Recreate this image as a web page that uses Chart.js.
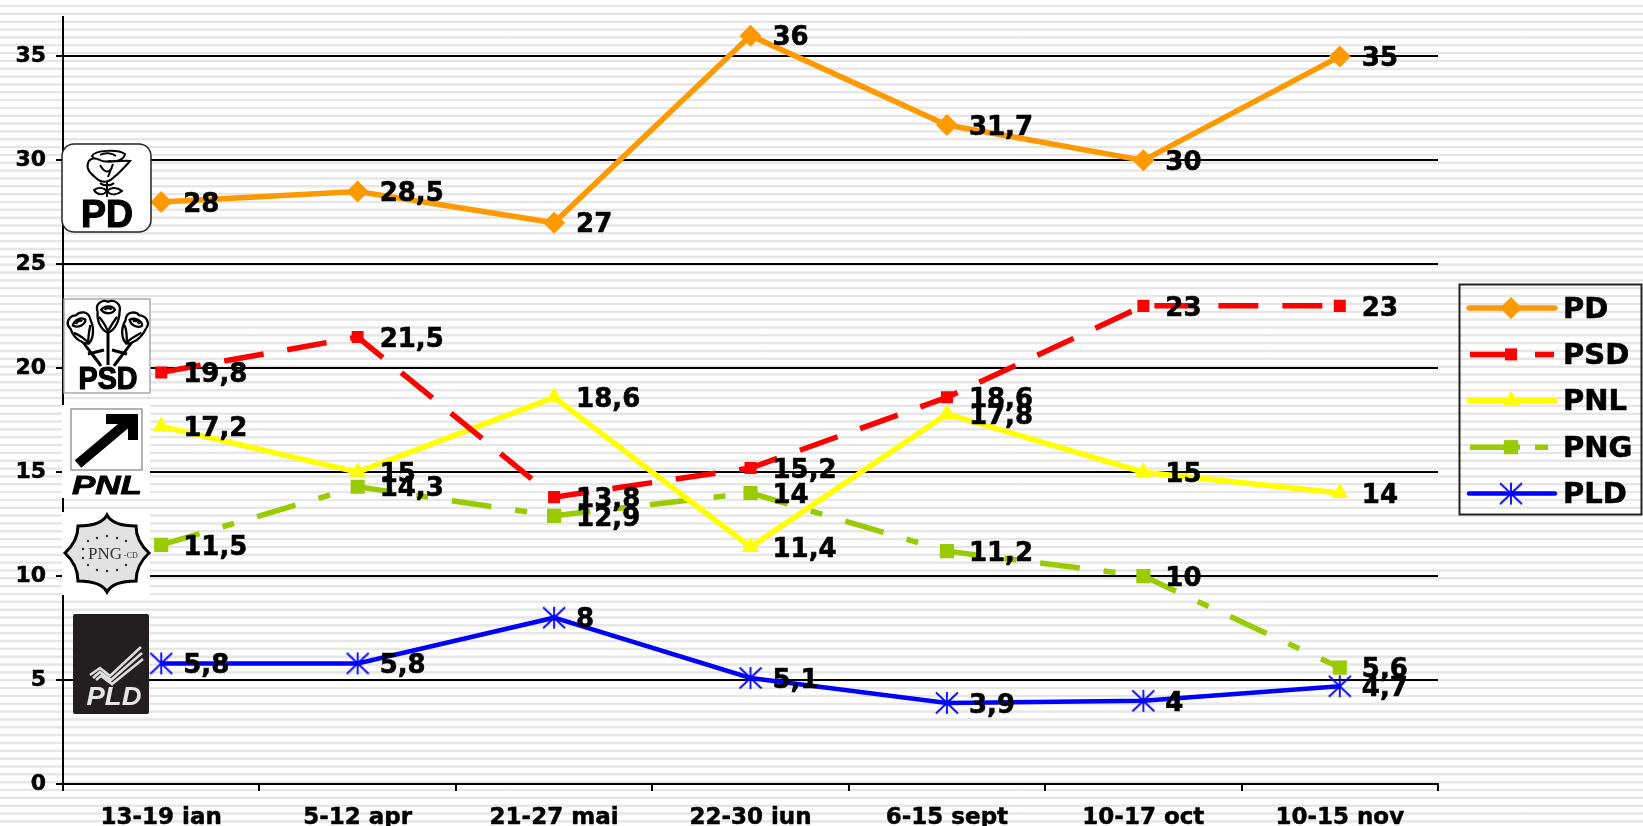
<!DOCTYPE html>
<html><head><meta charset="utf-8">
<script src="https://cdn.jsdelivr.net/npm/chart.js@4"></script>
<style>
html,body{margin:0;padding:0;width:1643px;height:826px;overflow:hidden;background:#fff}
#bg{position:absolute;left:0;top:0;width:1643px;height:826px;
background:repeating-linear-gradient(180deg,#fff 0,#fff 4.4px,#e6e6e6 5.2px,#e6e6e6 6.8px,#fff 7.6px,#fff 7.84px)}
#wrap{position:absolute;left:0;top:0;width:1643px;height:826px}
#logos{position:absolute;left:0;top:0;pointer-events:none}
</style></head><body>
<div id="bg"></div>
<div id="wrap"><canvas id="c" width="1643" height="826"></canvas></div>
<svg id="logos" width="1643" height="826" viewBox="0 0 1643 826" xmlns="http://www.w3.org/2000/svg">
<defs>
<g id="rose" fill="#fff" stroke="#000" stroke-width="2">
  <path d="M-9,-6 C-12,-14 -4,-17 0,-15 C5,-17 12,-14 10,-6 C10,3 5,10 0,12 C-5,10 -10,3 -9,-6 Z"/>
  <path d="M-6,-8 C-3,-12 4,-12 6,-8 C4,-4 -3,-4 -6,-8 Z"/>
  <path d="M-3,-8 C-1,-10 2,-10 3,-8" fill="none"/>
  <path d="M-8,-2 C-4,2 -2,6 0,11 M8,-2 C5,2 2,6 0,11" fill="none"/>
</g>
</defs>
<!-- PD -->
<rect x="62" y="144" width="89" height="88" rx="12" fill="#fff" stroke="#222" stroke-width="1.5"/>
<g fill="#fff" stroke="#000" stroke-width="2">
  <path d="M92,156 C95,150 118,149 125,154 C124,160 116,162 110,161 C104,163 95,161 92,156 Z"/>
  <path d="M88,163 C90,157 96,158 100,160 C106,164 118,160 130,161 C124,168 118,174 113,178 C108,183 101,183 96,178 C90,173 86,169 88,163 Z"/>
  <path d="M100,155 C105,152 112,153 116,156 M100,165 C104,172 108,174 112,168 M113,164 L108,177" fill="none"/>
</g>
<path d="M107,181 V197 M94,190 C100,186 105,189 107,191 C110,188 116,186 122,191 C116,196 110,195 107,191 C103,196 97,195 94,190 Z M100,183 C103,186 111,186 114,183" fill="none" stroke="#000" stroke-width="2"/>
<text x="107" y="227" text-anchor="middle" font-family="Liberation Sans" font-weight="700" font-size="38" textLength="52" lengthAdjust="spacingAndGlyphs" stroke="#000" stroke-width="1.2">PD</text>
<!-- PSD -->
<rect x="64" y="299" width="86" height="94" fill="#fff" stroke="#aaa" stroke-width="1.5"/>
<path d="M108,330 V365 M83,342 C90,352 97,360 101,366 M132,342 C125,352 118,360 114,366 M88,354 L104,350 M127,354 L112,350" fill="none" stroke="#000" stroke-width="3"/>
<use href="#rose" transform="translate(83,331) rotate(-25) scale(1.15)"/>
<use href="#rose" transform="translate(132,331) rotate(25) scale(1.15)"/>
<use href="#rose" transform="translate(108,319) scale(1.15)"/>
<text x="108" y="389" text-anchor="middle" font-family="Liberation Sans" font-weight="700" font-size="31" textLength="59" lengthAdjust="spacingAndGlyphs" stroke="#000" stroke-width="1.2">PSD</text>
<!-- PNL -->
<rect x="62" y="405" width="88" height="93" fill="#fff"/>
<rect x="71" y="409" width="71" height="61" fill="#fff" stroke="#999" stroke-width="1.5"/>
<path d="M106,414 H138 V440 H128 V424 H106 Z" fill="#000"/>
<path d="M78,464 L128,422" fill="none" stroke="#000" stroke-width="10"/>
<text x="107" y="494" text-anchor="middle" font-family="Liberation Sans" font-weight="700" font-style="italic" font-size="25" textLength="70" lengthAdjust="spacingAndGlyphs" stroke="#000" stroke-width=".8">PNL</text>
<!-- PNG -->
<rect x="62" y="512" width="88" height="83" fill="#fff"/>
<path d="M107,515 Q113,526 136,526 Q136,541 149,553 Q136,565 136,581 Q113,581 107,592 Q101,581 78,581 Q78,565 65,553 Q78,541 78,526 Q101,526 107,515 Z" fill="#e2e2e2" stroke="#000" stroke-width="3" stroke-linejoin="miter"/>
<g fill="#333"><circle cx="107" cy="536" r="1.2"/><circle cx="97" cy="538" r="1.2"/><circle cx="117" cy="538" r="1.2"/><circle cx="88" cy="541" r="1.2"/><circle cx="126" cy="541" r="1.2"/><circle cx="83" cy="549" r="1.2"/><circle cx="83" cy="558" r="1.2"/><circle cx="88" cy="565" r="1.2"/><circle cx="97" cy="570" r="1.2"/><circle cx="107" cy="571" r="1.2"/><circle cx="117" cy="570" r="1.2"/><circle cx="126" cy="565" r="1.2"/></g>
<text x="105" y="559" text-anchor="middle" font-family="Liberation Serif" font-size="17" fill="#333">PNG</text>
<text x="131" y="558" text-anchor="middle" font-family="Liberation Serif" font-size="8" fill="#333">-CD</text>
<!-- PLD -->
<rect x="73" y="614" width="76" height="100" rx="2" fill="#231f20"/>
<path d="M90,675 L100,668 L110,676 L141,647 M93,678 L100,672 L111,680 L142,653 M96,680 L101,676 L112,684 L143,659" fill="none" stroke="#ddd" stroke-width="2.6"/>
<text x="114" y="705" text-anchor="middle" font-family="Liberation Sans" font-weight="700" font-style="italic" font-size="25" textLength="55" lengthAdjust="spacingAndGlyphs" fill="#e6e6e6">PLD</text>
</svg>
<script>
const categories = ['13-19 ian','5-12 apr','21-27 mai','22-30 iun','6-15 sept','10-17 oct','10-15 nov'];
const seriesNames = ['PD','PSD','PNL','PNG','PLD'];
const pdValues  = [28,28.5,27,36,31.7,30,35];
const psdValues = [19.8,21.5,13.8,15.2,18.6,23,23];
const pnlValues = [17.2,15,18.6,11.4,17.8,15,14];
const pngValues = [11.5,14.3,12.9,14,11.2,10,5.6];
const pldValues = [5.8,5.8,8,5.1,3.9,4,4.7];

const FONT = '"DejaVu Sans"';
const asterisk = (() => {
  const cv = document.createElement('canvas'); cv.width = 24; cv.height = 24;
  const g = cv.getContext('2d'); g.strokeStyle = '#0000ff'; g.lineWidth = 1.8;
  g.beginPath();
  g.moveTo(12,1); g.lineTo(12,23);
  g.moveTo(1,1.5); g.lineTo(23,22.5);
  g.moveTo(23,1.5); g.lineTo(1,22.5);
  g.stroke();
  return cv;
})();

const common = { tension:0, fill:false, borderJoinStyle:'miter' };
const datasets = [
  {...common,label:seriesNames[0],data:pdValues,borderColor:'#ff9900',backgroundColor:'#ff9900',borderWidth:5.5,pointStyle:'rectRot',pointRadius:11,pointBorderWidth:0},
  {...common,label:seriesNames[1],data:psdValues,borderColor:'#ff0000',backgroundColor:'#ff0000',borderWidth:5.5,borderDash:[40,24],legendDash:[46,19,19,99],pointStyle:'rect',pointRadius:8.5,pointBorderWidth:0},
  {...common,label:seriesNames[2],data:pnlValues,borderColor:'#ffff00',backgroundColor:'#ffff00',borderWidth:5.5,pointStyle:'triangle',pointRadius:10,pointBorderWidth:0},
  {...common,label:seriesNames[3],data:pngValues,borderColor:'#99cc00',backgroundColor:'#99cc00',borderWidth:5.5,borderDash:[40,24,12,24],legendDash:[50,15,13,99],pointStyle:'rect',pointRadius:10,pointBorderWidth:0},
  {...common,label:seriesNames[4],data:pldValues,borderColor:'#0000ff',backgroundColor:'#0000ff',borderWidth:4.5,pointStyle:asterisk,pointRadius:12}
];

const valueLabels = {
  id:'valueLabels',
  afterDatasetsDraw(chart){
    const ctx = chart.ctx; ctx.save();
    ctx.font = '700 26px '+FONT; ctx.fillStyle = '#000'; ctx.strokeStyle = '#000'; ctx.lineWidth = 0.6;
    ctx.textAlign = 'left'; ctx.textBaseline = 'middle';
    chart.data.datasets.forEach((ds,i)=>{
      chart.getDatasetMeta(i).data.forEach((pt,j)=>{
        const t = String(ds.data[j]).replace('.',',');
        ctx.fillText(t, pt.x+22, pt.y+3);
        ctx.strokeText(t, pt.x+22, pt.y+3);
      });
    });
    ctx.restore();
  }
};

const boxLegend = {
  id:'boxLegend',
  afterDraw(chart){
    const ctx = chart.ctx; ctx.save();
    ctx.strokeStyle = '#222'; ctx.lineWidth = 2;
    ctx.strokeRect(1459.5,284.5,182,230);
    chart.data.datasets.forEach((ds,i)=>{
      const y = 308 + i*46.4;
      ctx.save();
      ctx.strokeStyle = ds.borderColor; ctx.lineWidth = ds.borderWidth;
      ctx.lineCap = ds.legendDash ? 'butt' : 'round';
      if (ds.legendDash) ctx.setLineDash(ds.legendDash);
      ctx.beginPath(); ctx.moveTo(ds.legendDash?1470:1469,y); ctx.lineTo(ds.legendDash?1554:1555,y); ctx.stroke();
      ctx.restore();
      ctx.fillStyle = ds.backgroundColor;
      Chart.helpers.drawPoint(ctx,{pointStyle:ds.pointStyle,radius:ds.pointRadius,borderWidth:0},1511,y);
      ctx.fillStyle = '#000'; ctx.strokeStyle = '#000'; ctx.lineWidth = 0.6; ctx.font = '700 29px '+FONT;
      ctx.textAlign='left'; ctx.textBaseline='middle';
      ctx.fillText(ds.label,1563,y+2);
      ctx.strokeText(ds.label,1563,y+2);
    });
    ctx.restore();
  }
};

Chart.defaults.font.family = FONT;
new Chart(document.getElementById('c'),{
  type:'line',
  data:{labels:categories,datasets},
  plugins:[valueLabels,boxLegend],
  options:{
    responsive:false,animation:false,
    layout:{padding:{left:0,right:205,top:11,bottom:0}},
    plugins:{legend:{display:false},tooltip:{enabled:false},title:{display:false}},
    scales:{
      x:{offset:true,
        afterFit(s){s.height=42},
        border:{color:'#000',width:2},
        grid:{display:true,drawOnChartArea:false,drawTicks:true,tickLength:7,color:'#000',lineWidth:2,offset:true},
        ticks:{color:'#000',font:{size:23,weight:'700'},padding:13,maxRotation:0,autoSkip:false,textStrokeColor:'#000',textStrokeWidth:0.5}
      },
      y:{min:0,max:36.92,
        afterBuildTicks(s){s.ticks=s.ticks.filter(t=>t.value<=35)},
        afterFit(s){s.width=63;s.paddingTop=0;s.paddingBottom=0},
        border:{color:'#000',width:2},
        grid:{color:'#000',lineWidth:2,tickLength:7},
        ticks:{stepSize:5,color:'#000',font:{size:22,weight:'700'},padding:10,textStrokeColor:'#000',textStrokeWidth:0.5}
      }
    }
  }
});
</script>
</body></html>
